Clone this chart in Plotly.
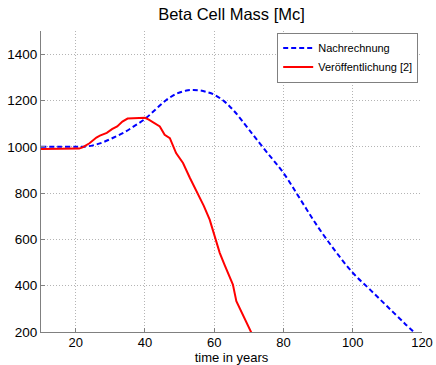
import plotly.graph_objects as go

blue_x = [10, 15, 20, 22, 25, 28, 31, 34, 37, 40, 43, 46, 49, 52, 54, 56, 58, 60, 63, 66, 70, 75, 80, 85, 90, 95, 100, 105, 110, 115, 118]
blue_y = [1000, 1000, 1000, 1000, 1006, 1020, 1040, 1062, 1090, 1120, 1160, 1200, 1228, 1243, 1245, 1243, 1236, 1225, 1195, 1150, 1075, 980, 887, 770, 653, 549, 456, 383, 310, 237, 195]

red_x = [10, 15, 20, 21, 22, 24, 26, 27, 29, 30.5, 32, 33.5, 35, 37, 39, 40, 41, 42, 43, 44.3, 45.7, 47.2, 49, 51, 53, 55, 57, 58.7, 60.6, 61.6, 63, 65.4, 66.4, 68, 70.2, 70.8]
red_y = [990, 990, 990, 992, 997, 1015, 1040, 1048, 1060, 1076, 1088, 1109, 1122, 1122, 1122, 1125, 1118, 1110, 1100, 1088, 1052, 1037, 973, 930, 865, 807, 745, 685, 585, 542, 490, 405, 333, 280, 211, 195]

x_ticks = [20, 40, 60, 80, 100, 120]
y_ticks = [200, 400, 600, 800, 1000, 1200, 1400]

fig = go.Figure()
fig.add_trace(go.Scatter(x=blue_x, y=blue_y, mode="lines", name="Nachrechnung",
                         line=dict(color="#0000ff", width=2, dash="5px,3px", shape="spline")))
fig.add_trace(go.Scatter(x=red_x, y=red_y, mode="lines", name="Veröffentlichung [2]",
                         line=dict(color="#ff0000", width=2)))

font = "Liberation Sans, Arial, sans-serif"
fig.update_layout(
    width=436, height=365,
    margin=dict(l=41, r=14, t=31, b=33, autoexpand=False),
    paper_bgcolor="white", plot_bgcolor="white",
    font=dict(family=font, size=13.5, color="black"),
    title=dict(text="Beta Cell Mass [Mc]", xref="paper", x=0.5, xanchor="center",
               yref="container", y=0.962, yanchor="middle",
               font=dict(family=font, size=16.5, color="black")),
    legend=dict(x=0.99, y=0.995, xanchor="right", yanchor="top",
                bordercolor="#808080", borderwidth=1, bgcolor="white",
                font=dict(family=font, size=11, color="black"),
                tracegroupgap=0, itemwidth=30),
    showlegend=True,
)
fig.update_xaxes(range=[10, 120], tickvals=x_ticks, showgrid=True, gridcolor="#b4b4b4", griddash="1px,2px",
                 gridwidth=1, showline=True, linecolor="#808080", linewidth=1, ticks="inside",
                 ticklen=4, tickcolor="#808080", zeroline=False, automargin=False,
                 tickfont=dict(size=13), ticklabelstandoff=-2,
                 title=dict(text="time in years", font=dict(family=font, size=13), standoff=4))
fig.update_yaxes(range=[200, 1500], tickvals=y_ticks, showgrid=True, gridcolor="#b4b4b4", griddash="1px,2px",
                 gridwidth=1, showline=True, linecolor="#808080", linewidth=1, ticks="inside",
                 ticklen=4, tickcolor="#808080", zeroline=False, automargin=False)
fig.write_html("out.html")
